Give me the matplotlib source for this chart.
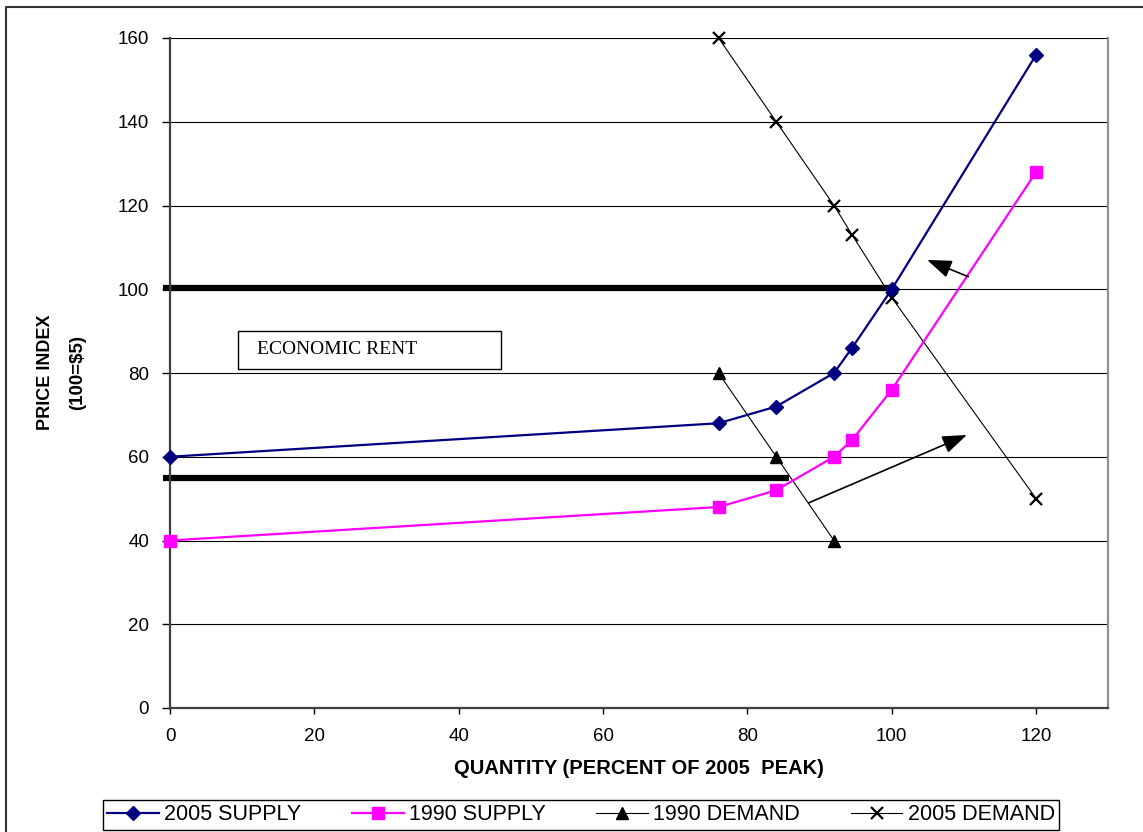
import matplotlib
matplotlib.use('Agg')
import matplotlib.pyplot as plt
from matplotlib.patches import Rectangle
from matplotlib.lines import Line2D

plt.rcParams['font.family'] = ['Liberation Sans', 'DejaVu Sans']

# supply / demand curves (quantity in % of 2005 peak, price index 100=$5)
supply_2005_x = [0, 76, 84, 92, 94.5, 100, 120]
supply_2005_y = [60, 68, 72, 80, 86, 100, 156]
supply_1990_x = [0, 76, 84, 92, 94.5, 100, 120]
supply_1990_y = [40, 48, 52, 60, 64, 76, 128]
demand_1990_x = [76, 84, 92]
demand_1990_y = [80, 60, 40]
demand_2005_x = [76, 84, 92, 94.5, 100, 120]
demand_2005_y = [160, 140, 120, 113, 98, 50]

# price levels bounding the economic rent
rent_high, rent_high_end = 100.3, 100
rent_low, rent_low_end = 55.0, 85.8

# shift arrows (tail, head)
arrow_demand = ((110.6, 103), (104.9, 107))
arrow_supply = ((88.5, 49.0), (110.4, 65.2))

x_ticks = [0, 20, 40, 60, 80, 100, 120]
y_ticks = [0, 20, 40, 60, 80, 100, 120, 140, 160]

W, H = 1143, 832
fig = plt.figure(figsize=(W / 100, H / 100), dpi=100)
ax = fig.add_axes([170 / W, 1 - 708 / H, 938.3 / W, 670 / H])
ax.set_xlim(0, 130)
ax.set_ylim(0, 160)

for y in y_ticks[1:]:
    ax.axhline(y, color='black', lw=0.8, zorder=1)

ax.plot([-1, rent_high_end], [rent_high, rent_high], color='black', lw=4.5,
        solid_capstyle='butt', clip_on=False, zorder=2)
ax.plot([-1, rent_low_end], [rent_low, rent_low], color='black', lw=4.5,
        solid_capstyle='butt', clip_on=False, zorder=2)

l1, = ax.plot(supply_2005_x, supply_2005_y, color='#000080', lw=1.6, marker='D',
              ms=7.5, label='2005 SUPPLY', clip_on=False, zorder=4)
l2, = ax.plot(supply_1990_x, supply_1990_y, color='#FF00FF', lw=1.6, marker='s',
              ms=9, label='1990 SUPPLY', clip_on=False, zorder=4)
l3, = ax.plot(demand_1990_x, demand_1990_y, color='black', lw=0.8, marker='^',
              ms=9, label='1990 DEMAND', clip_on=False, zorder=3)
l4, = ax.plot(demand_2005_x, demand_2005_y, color='black', lw=0.8, marker='x',
              ms=9, mew=1.6, label='2005 DEMAND', clip_on=False, zorder=3)

for (tail, head) in (arrow_demand, arrow_supply):
    ax.annotate('', xy=head, xytext=tail,
                arrowprops=dict(arrowstyle='-|>,head_length=0.6,head_width=0.22',
                                mutation_scale=25, lw=1.2, color='black',
                                shrinkA=0, shrinkB=0), zorder=5)

# label box for the rent band
ax.add_patch(Rectangle((9.4, 81.0), 36.4, 9.1, fill=False, edgecolor='black',
                       lw=1.0, zorder=5))
ax.text(12.0, 85.6, 'ECONOMIC RENT', family='Liberation Serif', fontsize=14,
        ha='left', va='center', zorder=6)

ax.set_xticks(x_ticks)
ax.set_yticks(y_ticks)
ax.tick_params(axis='y', direction='out', length=6, width=1, pad=9, labelsize=13.5)
ax.tick_params(axis='x', direction='out', length=4.5, width=1, pad=10, labelsize=13.5)

ax.spines['top'].set_visible(False)
ax.spines['left'].set_color('#404040')
ax.spines['bottom'].set_color('#404040')
ax.spines['right'].set_color('#909090')
for s in ('left', 'bottom', 'right'):
    ax.spines[s].set_linewidth(1.6)

fig.text(639 / W, 1 - 769 / H, 'QUANTITY (PERCENT OF 2005  PEAK)', fontsize=14.5,
         fontweight='bold', ha='center', va='center')
fig.text(45 / W, 1 - 372 / H, 'PRICE INDEX', fontsize=13, fontweight='bold',
         rotation=90, ha='center', va='center')
fig.text(78 / W, 1 - 372 / H, r'(100=\$5)', fontsize=13.5, fontweight='bold',
         rotation=90, ha='center', va='center')

leg = fig.legend(handles=[l1, l2, l3, l4], loc='center',
                 bbox_to_anchor=(581 / W, 1 - 815 / H), ncol=4, fontsize=15.5,
                 frameon=True, fancybox=False, edgecolor='black', framealpha=1,
                 handlelength=2.4, handletextpad=0.25, columnspacing=2.35,
                 borderpad=0.2, borderaxespad=0)
leg.get_frame().set_linewidth(1.0)

# outer frame, runs off the right and bottom edges
fig.add_artist(Line2D([6 / W, 6 / W, 1.01], [-0.01, 1 - 7 / H, 1 - 7 / H],
                      transform=fig.transFigure, color='#333333', lw=1.5))

fig.savefig('out.png', dpi=100)
